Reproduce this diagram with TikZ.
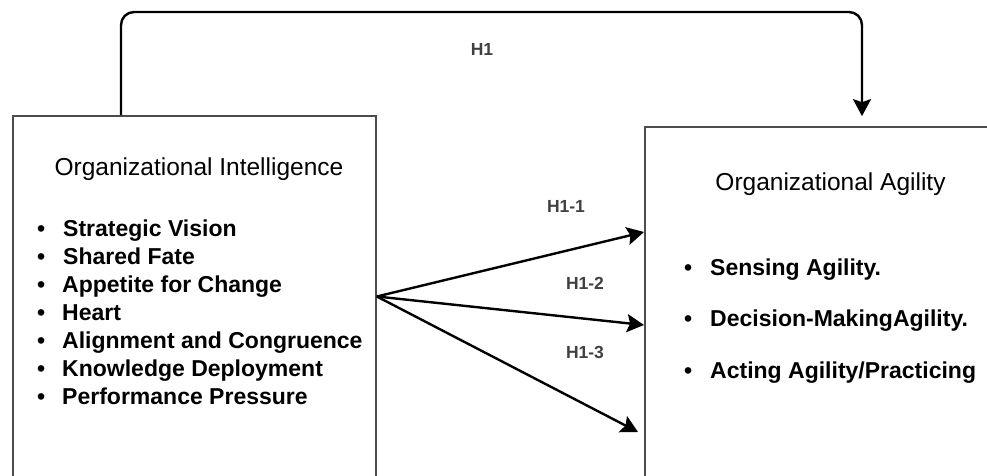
\documentclass[tikz,border=0pt]{standalone}
\usepackage{fontspec}
\setmainfont{Liberation Sans}
\usetikzlibrary{positioning,arrows.meta}

\begin{document}
\begin{tikzpicture}[x=1pt,y=-1pt,
    box/.style={draw=black!70,line width=1.7pt,inner sep=0pt},
    title/.style={font=\fontsize{24.5}{28}\selectfont,text=black,inner sep=0pt,anchor=base},
    item/.style={font=\bfseries\fontsize{23}{27}\selectfont,inner sep=0pt,anchor=base west},
    hyp/.style={font=\bfseries\fontsize{17.5}{20}\selectfont,text=black!75,inner sep=0pt},
    link/.style={draw=black,line width=2.4pt,-{Stealth[length=17pt,width=18pt,inset=3pt]}}]
  \useasboundingbox (0,0) rectangle (987,476);
  \clip (0,0) rectangle (987,476);
  % the two constructs
  \node[box,minimum width=363pt,minimum height=361pt] (oi) at (194.5,296.5) {};
  \node[box,minimum width=365pt,minimum height=396pt] (oa) at (827.5,325) {};
  % left box texts
  \node[title] (oi-title) at (199,175) {Organizational Intelligence};
  \node[item] (oi-1) at (37,236) {•\hspace{18pt}Strategic Vision};
  \node[item] (oi-2) at (37,264) {•\hspace{18pt}Shared Fate};
  \node[item] (oi-3) at (37,292) {•\hspace{17pt}Appetite for Change};
  \node[item] (oi-4) at (37,320) {•\hspace{17pt}Heart};
  \node[item] (oi-5) at (37,348) {•\hspace{17pt}Alignment and Congruence};
  \node[item] (oi-6) at (37,376) {•\hspace{17pt}Knowledge Deployment};
  \node[item] (oi-7) at (37,404) {•\hspace{17pt}Performance Pressure};
  % right box texts
  \node[title] (oa-title) at (830.5,190) {Organizational Agility};
  \node[item] (oa-1) at (684,275) {•\hspace{18pt}Sensing Agility.};
  \node[item] (oa-2) at (684,326) {•\hspace{18pt}Decision-MakingAgility.};
  \node[item] (oa-3) at (684,378) {•\hspace{18pt}Acting Agility/Practicing};
  % end points of the connectors
  \coordinate (srcH1) at ([xshift=-73.5pt]oi.north);
  \coordinate (dstH1) at ([xshift=34.5pt]oa.north);
  \coordinate (topH1) at (484,12);
  \coordinate (t1) at (644,232);
  \coordinate (t2) at (644,325);
  \coordinate (t3) at (638,432);
  % hypotheses
  \draw[link,rounded corners=13pt,shorten >=10pt] (srcH1) |- (topH1) -| (dstH1);
  \draw[link] (oi.east) -- (t1);
  \draw[link] (oi.east) -- (t2);
  \draw[link] (oi.east) -- (t3);
  \node[hyp] (h1) at (482,49) {H1};
  \node[hyp] (h11) at (566,206) {H1-1};
  \node[hyp] (h12) at (585,283) {H1-2};
  \node[hyp] (h13) at (585,352) {H1-3};
\end{tikzpicture}
\end{document}
